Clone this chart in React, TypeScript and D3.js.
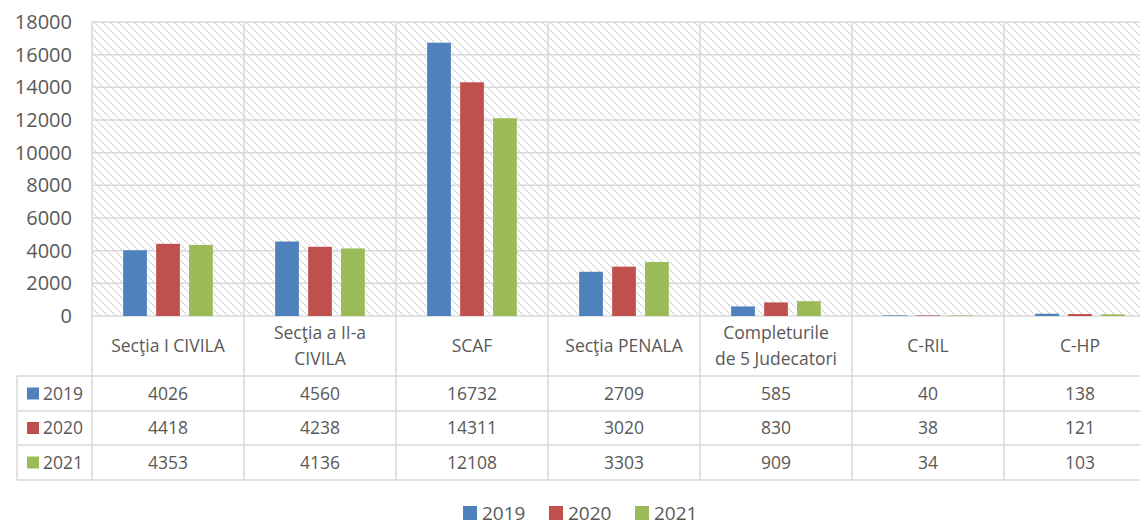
import React from "react";
import * as d3 from "d3";

const categories: string[][] = [
  ["Secţia I CIVILA"],
  ["Secţia a II-a", "CIVILA"],
  ["SCAF"],
  ["Secţia PENALA"],
  ["Completurile", "de 5 Judecatori"],
  ["C-RIL"],
  ["C-HP"],
];
const seriesNames = ["2019", "2020", "2021"];
const values2019 = [4026, 4560, 16732, 2709, 585, 40, 138];
const values2020 = [4418, 4238, 14311, 3020, 830, 38, 121];
const values2021 = [4353, 4136, 12108, 3303, 909, 34, 103];
const yTicks = [0, 2000, 4000, 6000, 8000, 10000, 12000, 14000, 16000, 18000];
const colors = ["#4F81BD", "#C0504D", "#9BBB59"];

const series = [values2019, values2020, values2021];

export default function App() {
  const W = 1140, H = 525;
  const left = 92, top = 22, bottom = 316;
  const colW = 152;
  const right = left + colW * categories.length;
  const rowYs = [376, 411, 445, 480];
  const legLeft = 17;
  const font = "'Open Sans', sans-serif";
  const txt = "#595959";
  const grid = "#d9d9d9";

  const idx = categories.map((_, i) => String(i));
  const x0 = d3.scaleBand<string>().domain(idx).range([left, right]).paddingInner(0.41).paddingOuter(0.205);
  const x1 = d3.scaleBand<string>().domain(seriesNames).range([0, x0.bandwidth()]).paddingInner(0.28);
  const y = d3.scaleLinear().domain([0, 18000]).range([bottom, top]);

  return (
    <svg width={W} height={H} style={{ position: "absolute", left: 0, top: 0, display: "block" }}>
      <defs>
        <pattern id="hatch" width={8} height={8} patternUnits="userSpaceOnUse">
          <rect width={8} height={8} fill="#fff" />
          {[0, 1, 2, 3].map((i) => (
            <rect key={i} x={i * 2} y={i * 2} width={2} height={2} fill="#e2e2e2" />
          ))}
        </pattern>
      </defs>
      <rect x={0} y={0} width={W} height={H} fill="#fff" />
      <rect x={left} y={top} width={right - left} height={bottom - top} fill="url(#hatch)" />
      {yTicks.map((t) => (
        <line key={t} x1={left} x2={right} y1={y(t)} y2={y(t)} stroke={grid} strokeWidth={1.5} />
      ))}
      {d3.range(categories.length + 1).map((i) => (
        <line key={i} x1={left + i * colW} x2={left + i * colW} y1={top} y2={rowYs[3]} stroke={grid} strokeWidth={1.5} />
      ))}
      {rowYs.map((ry, i) => (
        <line key={i} x1={legLeft} x2={right} y1={ry} y2={ry} stroke={grid} strokeWidth={1.5} />
      ))}
      <line x1={legLeft} x2={legLeft} y1={rowYs[0]} y2={rowYs[3]} stroke={grid} strokeWidth={1.5} />
      {series.map((vals, si) =>
        vals.map((v, ci) => (
          <rect
            key={`${si}-${ci}`}
            x={(x0(String(ci)) as number) + (x1(seriesNames[si]) as number)}
            y={y(v)}
            width={x1.bandwidth()}
            height={bottom - y(v)}
            fill={colors[si]}
          />
        ))
      )}
      {yTicks.map((t) => (
        <text key={t} x={72} y={y(t)} dy="0.35em" textAnchor="end" fontFamily={font} fontSize={20} fill={txt}>
          {t}
        </text>
      ))}
      {categories.map((lines, ci) => {
        const cx = left + ci * colW + colW / 2;
        const cy = (bottom + rowYs[0]) / 2;
        const lh = 26;
        return lines.map((ln, li) => (
          <text
            key={`${ci}-${li}`}
            x={cx}
            y={cy + (li - (lines.length - 1) / 2) * lh}
            dy="0.35em"
            textAnchor="middle"
            fontFamily={font}
            fontSize={17.5}
            fill={txt}
          >
            {ln}
          </text>
        ));
      })}
      {series.map((vals, si) => {
        const cy = (rowYs[si] + rowYs[si + 1]) / 2;
        return (
          <g key={si}>
            <rect x={27} y={cy - 6} width={12} height={12} fill={colors[si]} />
            <text x={43} y={cy} dy="0.35em" fontFamily={font} fontSize={17.5} fill={txt}>
              {seriesNames[si]}
            </text>
            {vals.map((v, ci) => (
              <text
                key={ci}
                x={left + ci * colW + colW / 2}
                y={cy}
                dy="0.35em"
                textAnchor="middle"
                fontFamily={font}
                fontSize={17.5}
                fill={txt}
              >
                {v}
              </text>
            ))}
          </g>
        );
      })}
      {seriesNames.map((s, si) => {
        const lx = 463 + si * 86;
        const cy = 513;
        return (
          <g key={s}>
            <rect x={lx} y={cy - 7} width={14} height={14} fill={colors[si]} />
            <text x={lx + 19} y={cy} dy="0.35em" fontFamily={font} fontSize={19} fill={txt}>
              {s}
            </text>
          </g>
        );
      })}
    </svg>
  );
}
